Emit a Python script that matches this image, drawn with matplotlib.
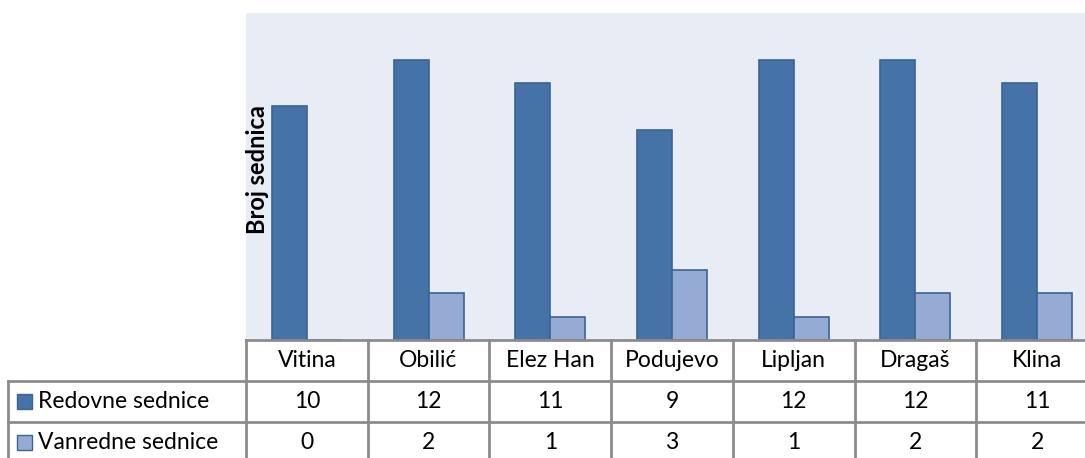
import matplotlib.pyplot as plt
import matplotlib.transforms as mtransforms
from matplotlib.patches import Rectangle
import numpy as np

plt.rcParams['font.family'] = ['Lato', 'DejaVu Sans']

opstine = ['Vitina', 'Obilić', 'Elez Han', 'Podujevo', 'Lipljan', 'Dragaš', 'Klina']
redovne = [10, 12, 11, 9, 12, 12, 11]
vanredne = [0, 2, 1, 3, 1, 2, 2]
serije = ['Redovne sednice', 'Vanredne sednice']

c_red = '#4572A7'
c_van = '#95ABD3'
c_edge = '#3B6494'
grid_c = '#8C8C8C'

W, H = 1085, 458
colw = 121.7
fig = plt.figure(figsize=(W / 100, H / 100), dpi=100)
ax = fig.add_axes([246 / W, (H - 340) / H, 7 * colw / W, (340 - 13) / H])
ax.set_facecolor('#E8ECF4')

x = np.arange(len(opstine))
bw = 0.288
ax.bar(x - bw / 2, redovne, bw, color=c_red, edgecolor=c_edge, linewidth=1.2)
ax.bar(x + bw / 2, vanredne, bw, color=c_van, edgecolor=c_edge, linewidth=1.2)
ax.set_xlim(-0.5, len(opstine) - 0.5)
ax.set_ylim(0, 14)
ax.set_xticks([])
ax.set_yticks([])
for s in ['top', 'right', 'left']:
    ax.spines[s].set_visible(False)
ax.spines['bottom'].set_color(grid_c)
ax.spines['bottom'].set_linewidth(2)

ax.text(0.0, 0.52, 'Broj sednica', transform=ax.transAxes, rotation=90,
        ha='left', va='center', fontsize=17, fontweight='bold')

# data table below the axis
tr = mtransforms.blended_transform_factory(ax.transData, ax.transAxes)
ph = (340 - 13)
rh = 41 / ph
fs = 16.5

# vertical lines between columns
for i in range(len(opstine) + 1):
    xi = i - 0.5
    ax.plot([xi, xi], [0, -3 * rh - 0.1], color=grid_c, lw=2, transform=tr, clip_on=False)
# horizontal lines
ax.plot([-0.5, len(opstine) - 0.5], [-rh, -rh], color=grid_c, lw=2, transform=tr, clip_on=False)
ax.plot([-0.5, len(opstine) - 0.5], [-2 * rh, -2 * rh], color=grid_c, lw=2, transform=tr, clip_on=False)

# legend column, figure pixel x + axes y
trl = mtransforms.blended_transform_factory(fig.transFigure, ax.transAxes)
x0 = 8 / W
xa = 246 / W
ax.plot([x0, xa], [-rh, -rh], color=grid_c, lw=2, transform=trl, clip_on=False)
ax.plot([x0, xa], [-2 * rh, -2 * rh], color=grid_c, lw=2, transform=trl, clip_on=False)
ax.plot([x0, x0], [-rh, -3 * rh - 0.1], color=grid_c, lw=2, transform=trl, clip_on=False)

for i, name in enumerate(opstine):
    ax.text(i, -0.5 * rh, name, transform=tr, ha='center', va='center', fontsize=fs)
    ax.text(i, -1.5 * rh, str(redovne[i]), transform=tr, ha='center', va='center', fontsize=fs)
    ax.text(i, -2.5 * rh, str(vanredne[i]), transform=tr, ha='center', va='center', fontsize=fs)

for j, (lab, col) in enumerate(zip(serije, [c_red, c_van])):
    yc = -(1.5 + j) * rh
    sq = 15
    fig.patches.append(Rectangle((17 / W, (H - 340 - 41 * (1.5 + j) - sq / 2) / H), sq / W, sq / H,
                                 facecolor=col, edgecolor=c_edge, lw=1, transform=fig.transFigure))
    ax.text(38 / W, yc, lab, transform=trl, ha='left', va='center', fontsize=fs)

fig.savefig('out.png', dpi=100)
